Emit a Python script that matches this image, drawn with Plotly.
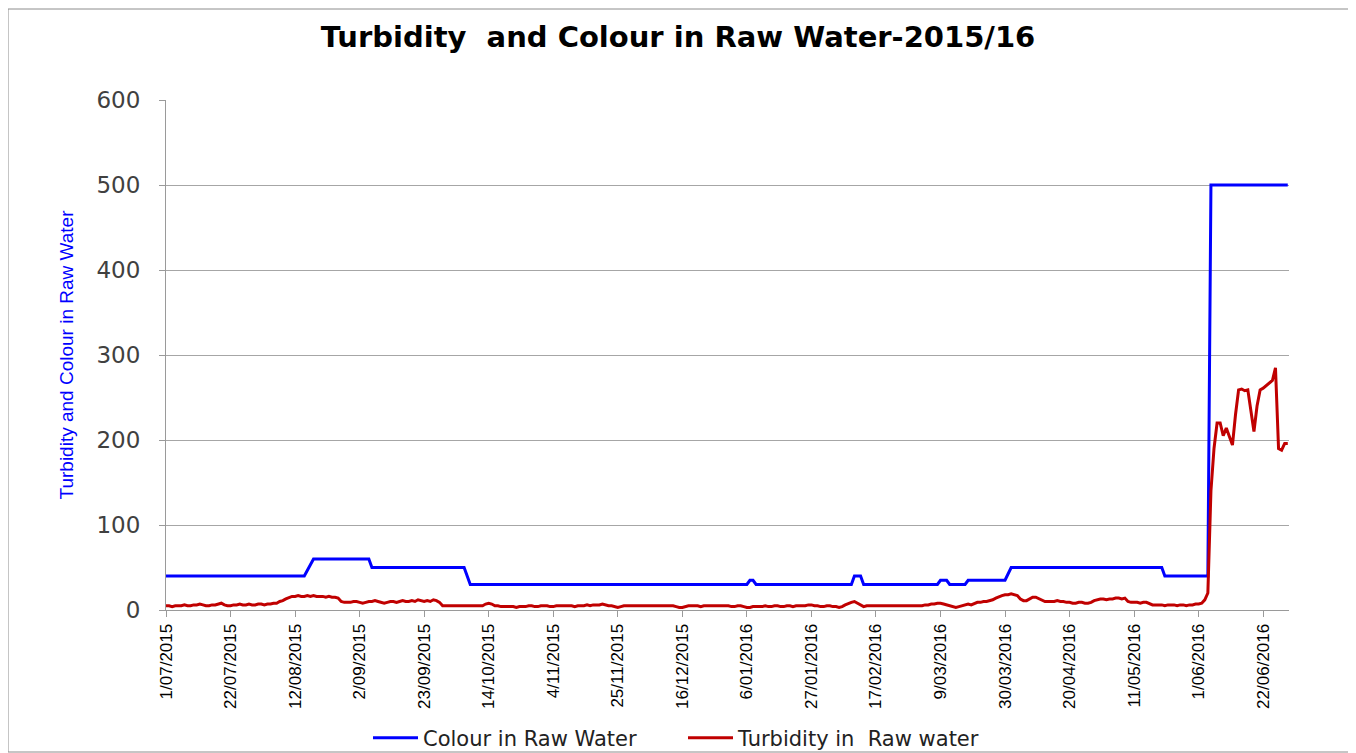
import datetime as dt
import plotly.graph_objects as go

# ---- data -------------------------------------------------------------
start = dt.date(2015, 7, 1)

# Colour in raw water: values at the days (offset from 1/07/2015) where the level changes
colour_days = [0, 45, 48, 66, 67, 97, 99, 189, 190, 191, 192, 223, 224, 226, 227,
               251, 252, 254, 255, 260, 261, 273, 275, 324, 325, 339, 340, 365]
colour_vals = [40, 40, 60, 60, 50, 50, 30, 30, 35, 35, 30, 30, 40, 40, 30,
               30, 35, 35, 30, 30, 35, 35, 50, 50, 40, 40, 500, 500]

# Turbidity in raw water: daily values from 1/07/2015 to 30/06/2016
turbidity_vals = [
    5, 5, 4, 5, 5, 5, 6, 5, 5, 6,
    6, 7, 6, 5, 5, 6, 6, 7, 8, 6,
    5, 5, 6, 6, 7, 6, 6, 7, 6, 6,
    7, 7, 6, 7, 7, 8, 8, 10, 11, 13,
    15, 16, 16, 17, 16, 16, 17, 16, 17, 16,
    16, 16, 15, 16, 15, 15, 14, 10, 9, 9,
    9, 10, 10, 9, 8, 9, 10, 10, 11, 10,
    9, 8, 9, 10, 10, 9, 10, 11, 10, 10,
    11, 10, 12, 11, 10, 11, 10, 12, 11, 9,
    5, 5, 5, 5, 5, 5, 5, 5, 5, 5,
    5, 5, 5, 5, 7, 8, 7, 5, 5, 4,
    4, 4, 4, 4, 3, 4, 4, 4, 5, 5,
    4, 4, 5, 5, 5, 4, 4, 5, 5, 5,
    5, 5, 5, 4, 5, 5, 5, 6, 5, 6,
    6, 6, 7, 6, 5, 5, 4, 3, 4, 5,
    5, 5, 5, 5, 5, 5, 5, 5, 5, 5,
    5, 5, 5, 5, 5, 5, 4, 3, 3, 4,
    5, 5, 5, 5, 4, 5, 5, 5, 5, 5,
    5, 5, 5, 5, 4, 4, 5, 5, 4, 3,
    3, 4, 4, 4, 4, 5, 4, 4, 5, 5,
    4, 4, 5, 5, 4, 5, 5, 5, 5, 6,
    6, 5, 5, 4, 4, 5, 5, 4, 4, 3,
    4, 6, 8, 9, 10, 8, 5, 4, 5, 5,
    5, 5, 5, 5, 5, 5, 5, 5, 5, 5,
    5, 5, 5, 5, 5, 5, 5, 6, 6, 7,
    7, 8, 8, 7, 6, 5, 4, 3, 4, 5,
    6, 7, 6, 8, 9, 9, 10, 10, 11, 12,
    14, 16, 17, 18, 18, 19, 18, 17, 13, 11,
    11, 13, 15, 15, 13, 11, 10, 10, 10, 10,
    11, 10, 10, 9, 9, 8, 8, 9, 9, 8,
    8, 9, 11, 12, 13, 13, 12, 13, 13, 14,
    14, 13, 14, 10, 9, 9, 9, 8, 9, 9,
    7, 6, 6, 6, 6, 5, 6, 6, 6, 5,
    6, 6, 5, 6, 6, 7, 7, 8, 12, 20,
    140, 190, 220, 220, 205, 214, 205, 194, 230, 259,
    260, 258, 259, 235, 210, 240, 259, 261, 264, 267,
    270, 285, 190, 188, 196, 196,
]

tick_labels = ["1/07/2015", "22/07/2015", "12/08/2015", "2/09/2015", "23/09/2015",
               "14/10/2015", "4/11/2015", "25/11/2015", "16/12/2015", "6/01/2016",
               "27/01/2016", "17/02/2016", "9/03/2016", "30/03/2016", "20/04/2016",
               "11/05/2016", "1/06/2016", "22/06/2016"]

# ---- build ------------------------------------------------------------
colour_dates = [start + dt.timedelta(days=d) for d in colour_days]
turb_dates = [start + dt.timedelta(days=i) for i in range(len(turbidity_vals))]
tick_dates = [dt.datetime.strptime(t, "%d/%m/%Y").date() for t in tick_labels]

fig = go.Figure()
fig.add_trace(go.Scatter(x=colour_dates, y=colour_vals, mode="lines",
                         name="Colour in Raw Water",
                         line=dict(color="#0000FF", width=3)))
fig.add_trace(go.Scatter(x=turb_dates, y=turbidity_vals, mode="lines",
                         name="Turbidity in  Raw water",
                         line=dict(color="#C00000", width=3)))

# page body has an 8px margin: figure coords = screen coords - 8
OFF = 8
W, H = 1356 - OFF, 753 - OFF
L, T = 166 - OFF, 100 - OFF
R = W - (1289 - OFF)
B = H - (610 - OFF)
pw, ph = W - L - R, H - T - B

def px(xs):
    return (xs - OFF - L) / pw

def py(ys):
    return (H - B - (ys - OFF)) / ph

fig.update_layout(
    width=W, height=H,
    margin=dict(l=L, r=R, t=T, b=B, autoexpand=False),
    paper_bgcolor="white", plot_bgcolor="white",
    title=dict(text="<b>Turbidity  and Colour in Raw Water-2015/16</b>",
               x=(678 - OFF) / W, xanchor="center", y=1 - 29 / H, yanchor="middle",
               font=dict(family="DejaVu Sans", size=29, color="black")),
    showlegend=True,
    legend=dict(orientation="h", x=px(368), xanchor="left", y=py(738), yanchor="middle",
                font=dict(family="DejaVu Sans", size=21, color="#222222"),
                itemwidth=45, entrywidth=255, entrywidthmode="pixels",
                tracegroupgap=0, bgcolor="rgba(0,0,0,0)"),
    shapes=[dict(type="rect", xref="paper", yref="paper",
                 x0=px(8), x1=px(1349), y0=py(752), y1=py(9),
                 line=dict(color="#8c8c8c", width=1), fillcolor="rgba(0,0,0,0)",
                 layer="below")],
)

end = dt.datetime(2015, 7, 1) + dt.timedelta(days=365.4)
fig.update_xaxes(type="date", range=[dt.datetime(2015, 7, 1), end], automargin=False,
                 tickmode="array", tickvals=tick_dates, ticktext=tick_labels,
                 tickangle=-90, ticks="outside", ticklen=6, tickcolor="#9a9a9a",
                 showline=True, linecolor="#9a9a9a", linewidth=1,
                 showgrid=False, zeroline=False,
                 tickfont=dict(family="Liberation Sans", size=17, color="black"))
fig.update_yaxes(range=[0, 600], automargin=False,
                 tickmode="array", tickvals=[0, 100, 200, 300, 400, 500, 600],
                 ticks="outside", ticklen=6, tickcolor="#9a9a9a", ticklabelstandoff=14,
                 showline=True, linecolor="#9a9a9a", linewidth=1,
                 showgrid=True, gridcolor="#a6a6a6", gridwidth=1, zeroline=False,
                 tickfont=dict(family="DejaVu Sans", size=23, color="#404040"),
                 title=dict(text="Turbidity and Colour in Raw Water", standoff=17,
                            font=dict(family="Liberation Sans Narrow, Liberation Sans", size=19, color="#0000FF")))

fig.write_html("out.html")
